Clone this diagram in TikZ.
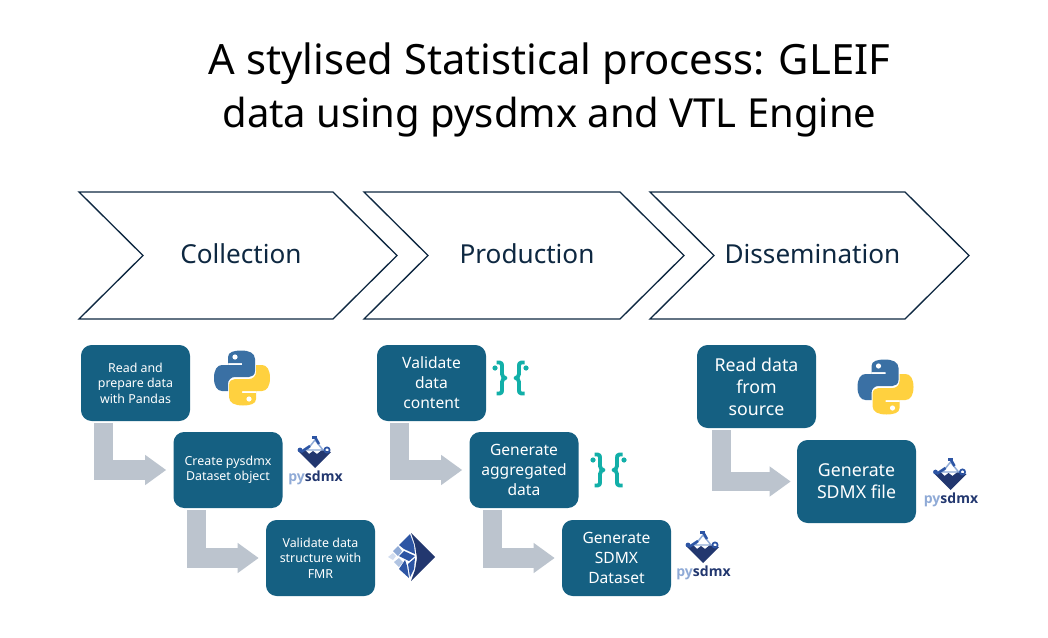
\documentclass[tikz,border=0pt]{standalone}
\usepackage{fontspec}
\setmainfont{Noto Sans}
\newfontfamily\logofont{Open Sans}
\usetikzlibrary{arrows.meta,calc}
\definecolor{boxblue}{HTML}{156082}
\definecolor{flowgrey}{HTML}{BCC4CE}
\definecolor{headnavy}{HTML}{0E2841}
\definecolor{sdmxnavy}{HTML}{22376F}
\definecolor{sdmxblue}{HTML}{2D55A4}
\definecolor{sdmxpale}{HTML}{8FAAD6}
\definecolor{vtlteal}{HTML}{12AFA8}
\definecolor{pyblue}{HTML}{3A70A4}
\definecolor{pyyellow}{HTML}{FFD13F}
\tikzset{
    x=0.75pt, y=-0.75pt,
    stepbox/.style={fill=boxblue, rounded corners=8pt, text=white, align=center, inner sep=0pt,
        minimum width=81.75pt, minimum height=57pt, font=\fontsize{9.3}{11.6}\selectfont},
    bigbox/.style={stepbox, font=\fontsize{11.7}{15}\selectfont},
    widebox/.style={bigbox, minimum width=89.25pt, minimum height=62.25pt, font=\fontsize{13.3}{16.5}\selectfont},
    chevronline/.style={draw=headnavy, line width=1pt, miter limit=10},
    headlabel/.style={text=headnavy, font=\fontsize{19.6}{22}\selectfont},
    bentflow/.style={draw=flowgrey, line width=14.6pt, -{Triangle[length=15.75pt,width=21.5pt]}},
    pics/pythonlogo/.style={code={
        \foreach \ang/\col in {0/pyblue,180/pyyellow}{
            \begin{scope}[rotate=\ang]
                \fill[\col] (-14,-13) -- (-14,-21) .. controls (-14,-26) and (-8,-27.5) .. (-1,-27.5)
                    .. controls (7,-27.5) and (13,-25) .. (13,-19) -- (13,-7) .. controls (13,-3) and (10,-1) .. (7,-1)
                    -- (-7,-1) .. controls (-11,-1) and (-14,2) .. (-14,6) -- (-14,13) -- (-20,13)
                    .. controls (-25,13) and (-28,8) .. (-28,0) .. controls (-28,-8) and (-25,-13) .. (-20,-13)
                    -- (0,-13) -- (0,-15) -- (-14,-15) -- cycle;
                \fill[white] (-7,-21) circle (2.6);
            \end{scope}
        }
    }},
    pics/sdmxlogo/.style={code={
        \fill[sdmxnavy] (-16,0) -- (-10,-2) -- (-6,2) -- (-2,-1) -- (2,2) -- (7,-2) -- (16,0) -- (0,16) -- cycle;
        \draw[sdmxpale, line width=1.1pt] (-8,-2) -- (0,-12) -- (8,-2) -- cycle;
        \draw[sdmxblue, line width=1.9pt] (-14,0) -- (-5,-6);
        \draw[sdmxblue, line width=1.9pt] (0,-15) -- (4,-8);
        \draw[sdmxblue, line width=1.3pt] (12,-2) circle (2.6);
        \fill[sdmxblue] (-3,-16) -- (2,-16) -- (2,-13) -- (-3,-13) -- cycle;
        \fill[sdmxblue] (-15,-2) circle (2.4);
        \node[inner sep=0pt, font=\logofont\fontsize{10.5}{12}\selectfont] at (0.5,26)
            {\textcolor{sdmxpale}{\bfseries py}\textcolor{sdmxnavy}{\bfseries sdmx}};
    }},
    pics/fmrlogo/.style={code={
        \fill[sdmxnavy] (0,-24) -- (24,0) -- (0,24) -- (4,13) -- (6,1) -- (4,-12) -- cycle;
        \fill[sdmxblue] (-1,-23) -- (3,-12) -- (4,-3) -- (-7,-8) -- (-12,-12) -- cycle;
        \fill[sdmxblue] (-7,-6) -- (4,-1) -- (-2,4) -- (-12,-1) -- cycle;
        \fill[sdmxblue] (4,1) -- (3,12) -- (-1,20) -- (-3,7) -- cycle;
        \fill[sdmxblue] (-6,3) -- (-4,9) -- (-2,21) -- (-12,12) -- cycle;
        \fill[sdmxpale] (-13,-11) -- (-9,-6) -- (-13,-1) -- (-18,-6) -- cycle;
        \fill[sdmxpale!70!white] (-12,1) -- (-8,5) -- (-12,10) -- (-17,5) -- cycle;
        \fill[sdmxpale!40!white] (-18,-4) -- (-15,-1) -- (-18,3) -- (-23,0) -- cycle;
    }},
    pics/vtlbraces/.style={code={
        \foreach \flip in {1,-1}{
            \begin{scope}[xscale=\flip]
                \fill[vtlteal] (-15.5,-10) circle (2.6);
                \draw[vtlteal, line width=2.9pt, line join=round] (-14,-15.5) -- (-11,-15.5) .. controls (-8.5,-15.5) and (-8.5,-14) .. (-8.5,-12)
                    -- (-8.5,-4) .. controls (-8.5,-1) and (-6.5,-0.5) .. (-5,0) .. controls (-6.5,0.5) and (-8.5,1) .. (-8.5,4)
                    -- (-8.5,12) .. controls (-8.5,14) and (-8.5,15.5) .. (-11,15.5) -- (-14,15.5);
            \end{scope}
        }
    }},
}
\begin{document}
\begin{tikzpicture}
    \useasboundingbox (0,0) rectangle (1048,638);

    \node[align=center, text=black, font=\fontsize{31.3}{40}\selectfont] (title) at (549.5,90)
        {A stylised Statistical process: GLEIF\\\fontsize{30}{40}\selectfont data using pysdmx and VTL Engine};

    % phases
    \draw[chevronline] (79,192) -- (333,192) -- (397,255.5) -- (333,319) -- (79,319) -- (143,255.5) -- cycle;
    \draw[chevronline] (364,192) -- (620,192) -- (684,255.5) -- (620,319) -- (364,319) -- (428,255.5) -- cycle;
    \draw[chevronline] (650,192) -- (905,192) -- (969,255.5) -- (905,319) -- (650,319) -- (714,255.5) -- cycle;
    \node[headlabel] (collection) at (241,254) {Collection};
    \node[headlabel] (production) at (527,254) {Production};
    \node[headlabel] (dissemination) at (812.5,254) {Dissemination};

    % collection
    \node[stepbox] (readprepare) at (135.5,383) {Read and\\prepare data\\with Pandas};
    \node[stepbox] (createobject) at (228,470) {Create pysdmx\\Dataset object};
    \node[stepbox] (validatestruct) at (320.5,558) {Validate data\\structure with\\FMR};

    % production
    \node[bigbox] (validatecontent) at (431.5,383) {Validate\\data\\content};
    \node[bigbox] (generateagg) at (524,470) {Generate\\aggregated\\data};
    \node[bigbox] (generateset) at (616.5,558) {Generate\\SDMX\\Dataset};

    % dissemination
    \node[widebox] (readsource) at (756.5,386.5) {Read data\\from\\source};
    \node[widebox] (generatefile) at (856.5,481.5) {Generate\\SDMX file};

    \draw[bentflow] ($(readprepare.south west)+(23,2)$) |- ($(createobject.west)+(-7,0)$);
    \draw[bentflow] ($(createobject.south west)+(23,2)$) |- ($(validatestruct.west)+(-7,0)$);
    \draw[bentflow] ($(validatecontent.south west)+(23,2)$) |- ($(generateagg.west)+(-7,0)$);
    \draw[bentflow] ($(generateagg.south west)+(23,2)$) |- ($(generateset.west)+(-7,0)$);
    \draw[bentflow] ($(readsource.south west)+(24.5,2)$) |- ($(generatefile.west)+(-6,0)$);

    % logos
    \pic at (242,378) {pythonlogo};
    \pic at (885.5,387) {pythonlogo};
    \pic at (315,452) {sdmxlogo};
    \pic at (703,547) {sdmxlogo};
    \pic at (950.5,474) {sdmxlogo};
    \pic at (411,557) {fmrlogo};
    \pic at (510.5,378) {vtlbraces};
    \pic at (608.5,470) {vtlbraces};
\end{tikzpicture}
\end{document}
